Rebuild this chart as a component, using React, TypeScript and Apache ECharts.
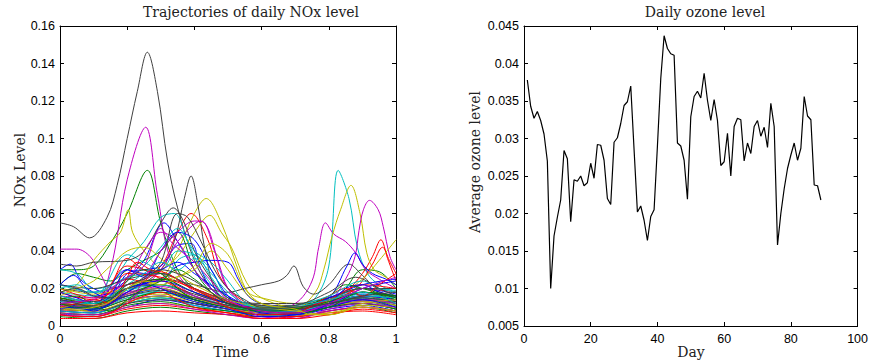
import React, { useEffect, useRef } from "react";
import * as echarts from "echarts";

// ---------- Left panel: NOx trajectories ([time, level] pairs) ----------
// Each group holds 7 curves, coloured in order: blue, green, red, cyan, magenta, yellow, black
const NOX_GROUP_1 = [
  [[0,0.022],[0.05,0.02],[0.1,0.016],[0.15,0.018],[0.2,0.025],[0.25,0.035],[0.31,0.055],[0.35,0.045],[0.4,0.03],[0.45,0.02],[0.5,0.014],[0.6,0.01],[0.7,0.009],[0.8,0.012],[0.9,0.015],[1,0.012]],
  [[0,0.03],[0.05,0.03],[0.1,0.032],[0.15,0.044],[0.2,0.06],[0.26,0.083],[0.3,0.055],[0.35,0.03],[0.4,0.02],[0.5,0.012],[0.6,0.009],[0.7,0.008],[0.8,0.011],[0.9,0.013],[1,0.01]],
  [[0,0.012],[0.1,0.01],[0.2,0.018],[0.3,0.032],[0.35,0.05],[0.39,0.06],[0.44,0.046],[0.48,0.025],[0.55,0.013],[0.65,0.009],[0.75,0.01],[0.85,0.014],[0.95,0.016],[1,0.013]],
  [[0,0.015],[0.1,0.013],[0.2,0.02],[0.3,0.018],[0.4,0.015],[0.5,0.011],[0.6,0.008],[0.7,0.009],[0.76,0.015],[0.8,0.032],[0.828,0.083],[0.86,0.068],[0.885,0.042],[0.915,0.028],[0.95,0.022],[1,0.018]],
  [[0,0.012],[0.1,0.011],[0.15,0.03],[0.2,0.078],[0.255,0.106],[0.29,0.07],[0.33,0.035],[0.4,0.018],[0.5,0.012],[0.6,0.009],[0.7,0.008],[0.8,0.012],[0.9,0.014],[1,0.012]],
  [[0,0.01],[0.1,0.012],[0.2,0.016],[0.3,0.025],[0.35,0.04],[0.4,0.06],[0.435,0.068],[0.48,0.055],[0.53,0.03],[0.56,0.018],[0.6,0.015],[0.7,0.012],[0.8,0.012],[0.9,0.016],[1,0.014]],
  [[0,0.055],[0.04,0.053],[0.088,0.047],[0.14,0.058],[0.17,0.075],[0.2,0.1],[0.23,0.125],[0.26,0.146],[0.29,0.125],[0.32,0.088],[0.35,0.063],[0.4,0.035],[0.45,0.02],[0.5,0.014],[0.6,0.011],[0.7,0.011],[0.8,0.014],[0.9,0.015],[1,0.012]],
];
const NOX_GROUP_2 = [
  [[0,0.03],[0.03,0.033],[0.06,0.025],[0.1,0.02],[0.15,0.017],[0.2,0.028],[0.25,0.03],[0.3,0.032],[0.35,0.043],[0.39,0.044],[0.42,0.03],[0.45,0.02],[0.5,0.013],[0.6,0.01],[0.7,0.009],[0.8,0.015],[0.9,0.017],[1,0.016]],
  [[0,0.022],[0.05,0.028],[0.1,0.026],[0.15,0.024],[0.2,0.03],[0.25,0.035],[0.3,0.04],[0.35,0.05],[0.4,0.03],[0.45,0.018],[0.5,0.012],[0.6,0.008],[0.7,0.008],[0.8,0.012],[0.85,0.02],[0.9,0.03],[0.95,0.029],[1,0.02]],
  [[0,0.015],[0.1,0.012],[0.2,0.025],[0.3,0.02],[0.4,0.014],[0.5,0.01],[0.6,0.007],[0.7,0.008],[0.8,0.014],[0.85,0.018],[0.9,0.028],[0.93,0.037],[0.955,0.046],[0.975,0.036],[1,0.024]],
  [[0,0.03],[0.05,0.028],[0.1,0.02],[0.15,0.022],[0.2,0.035],[0.25,0.045],[0.3,0.058],[0.34,0.06],[0.38,0.045],[0.42,0.03],[0.46,0.02],[0.5,0.013],[0.6,0.009],[0.7,0.008],[0.8,0.012],[0.9,0.014],[1,0.012]],
  [[0,0.01],[0.1,0.009],[0.2,0.014],[0.3,0.016],[0.4,0.012],[0.5,0.009],[0.6,0.007],[0.7,0.012],[0.75,0.024],[0.77,0.042],[0.79,0.055],[0.815,0.049],[0.85,0.045],[0.88,0.039],[0.91,0.03],[0.95,0.025],[1,0.02]],
  [[0,0.012],[0.1,0.01],[0.2,0.015],[0.3,0.017],[0.4,0.014],[0.5,0.01],[0.6,0.008],[0.7,0.009],[0.76,0.018],[0.785,0.03],[0.81,0.048],[0.835,0.062],[0.866,0.075],[0.893,0.06],[0.913,0.039],[0.935,0.03],[0.97,0.026],[1,0.022]],
  [[0,0.013],[0.1,0.012],[0.2,0.018],[0.3,0.03],[0.34,0.045],[0.37,0.068],[0.39,0.08],[0.41,0.065],[0.43,0.042],[0.46,0.02],[0.5,0.013],[0.6,0.01],[0.7,0.01],[0.8,0.015],[0.9,0.02],[1,0.015]],
];
const NOX_GROUP_3 = [
  [[0,0.012],[0.1,0.01],[0.2,0.02],[0.3,0.025],[0.35,0.032],[0.4,0.034],[0.45,0.035],[0.5,0.034],[0.53,0.025],[0.56,0.016],[0.6,0.012],[0.7,0.01],[0.8,0.014],[0.9,0.02],[1,0.017]],
  [[0,0.008],[0.1,0.007],[0.2,0.012],[0.3,0.015],[0.4,0.012],[0.5,0.009],[0.6,0.006],[0.7,0.006],[0.8,0.01],[0.9,0.012],[1,0.009]],
  [[0,0.008],[0.1,0.009],[0.2,0.032],[0.25,0.03],[0.3,0.025],[0.4,0.016],[0.5,0.01],[0.6,0.007],[0.7,0.009],[0.8,0.013],[0.88,0.02],[0.93,0.033],[0.96,0.042],[0.98,0.035],[1,0.028]],
  [[0,0.018],[0.1,0.016],[0.2,0.038],[0.25,0.034],[0.3,0.03],[0.35,0.04],[0.4,0.038],[0.45,0.03],[0.5,0.015],[0.6,0.009],[0.7,0.008],[0.8,0.012],[0.9,0.017],[1,0.014]],
  [[0,0.013],[0.1,0.012],[0.2,0.018],[0.3,0.02],[0.4,0.014],[0.5,0.01],[0.6,0.007],[0.7,0.008],[0.8,0.013],[0.85,0.025],[0.878,0.037],[0.89,0.051],[0.903,0.062],[0.921,0.067],[0.947,0.062],[0.962,0.053],[0.982,0.037],[1,0.03]],
  [[0,0.014],[0.1,0.012],[0.2,0.02],[0.3,0.03],[0.35,0.037],[0.4,0.05],[0.446,0.059],[0.48,0.05],[0.51,0.042],[0.556,0.023],[0.6,0.015],[0.7,0.01],[0.8,0.012],[0.9,0.014],[1,0.013]],
  [[0,0.02],[0.1,0.018],[0.2,0.022],[0.3,0.025],[0.4,0.022],[0.5,0.018],[0.55,0.02],[0.6,0.022],[0.65,0.024],[0.675,0.027],[0.696,0.032],[0.724,0.021],[0.755,0.017],[0.8,0.022],[0.86,0.033],[0.9,0.027],[0.95,0.02],[1,0.02]],
];
const NOX_GROUP_4 = [
  [[0,0.008],[0.1,0.007],[0.2,0.013],[0.3,0.016],[0.4,0.012],[0.5,0.009],[0.6,0.006],[0.7,0.007],[0.8,0.015],[0.854,0.032],[0.878,0.039],[0.9,0.033],[0.93,0.028],[0.97,0.025],[1,0.022]],
  [[0,0.012],[0.1,0.009],[0.2,0.017],[0.3,0.022],[0.4,0.015],[0.5,0.011],[0.6,0.008],[0.7,0.008],[0.8,0.012],[0.9,0.016],[1,0.012]],
  [[0,0.02],[0.1,0.015],[0.15,0.022],[0.2,0.036],[0.25,0.03],[0.3,0.028],[0.35,0.025],[0.4,0.02],[0.5,0.012],[0.6,0.008],[0.7,0.008],[0.8,0.012],[0.9,0.018],[1,0.015]],
  [[0,0.01],[0.1,0.009],[0.2,0.015],[0.3,0.02],[0.35,0.035],[0.4,0.038],[0.45,0.026],[0.5,0.015],[0.6,0.01],[0.7,0.009],[0.8,0.013],[0.9,0.018],[1,0.016]],
  [[0,0.041],[0.05,0.041],[0.09,0.037],[0.12,0.028],[0.15,0.02],[0.2,0.022],[0.25,0.025],[0.3,0.028],[0.35,0.022],[0.4,0.016],[0.5,0.01],[0.6,0.007],[0.7,0.007],[0.8,0.011],[0.9,0.014],[1,0.012]],
  [[0,0.018],[0.05,0.022],[0.1,0.035],[0.15,0.045],[0.18,0.05],[0.203,0.062],[0.216,0.05],[0.25,0.04],[0.3,0.03],[0.35,0.022],[0.4,0.018],[0.5,0.012],[0.6,0.008],[0.7,0.008],[0.8,0.012],[0.9,0.016],[1,0.013]],
  [[0,0.033],[0.05,0.032],[0.1,0.034],[0.2,0.035],[0.25,0.04],[0.3,0.055],[0.337,0.063],[0.37,0.055],[0.4,0.04],[0.45,0.025],[0.5,0.015],[0.6,0.011],[0.7,0.01],[0.8,0.014],[0.9,0.018],[1,0.015]],
];
const NOX_GROUP_5 = [
  [[0,0.006],[0.1,0.006],[0.2,0.01],[0.3,0.014],[0.4,0.011],[0.5,0.008],[0.6,0.006],[0.7,0.006],[0.8,0.009],[0.9,0.011],[1,0.008]],
  [[0,0.005],[0.1,0.004],[0.2,0.008],[0.3,0.01],[0.4,0.008],[0.5,0.006],[0.6,0.005],[0.7,0.005],[0.8,0.008],[0.9,0.01],[1,0.007]],
  [[0,0.004],[0.1,0.004],[0.2,0.007],[0.3,0.008],[0.4,0.007],[0.5,0.006],[0.6,0.004],[0.7,0.005],[0.8,0.007],[0.9,0.008],[1,0.006]],
  [[0,0.011],[0.1,0.01],[0.2,0.016],[0.3,0.018],[0.4,0.014],[0.5,0.01],[0.6,0.008],[0.7,0.008],[0.8,0.011],[0.9,0.015],[1,0.013]],
  [[0,0.009],[0.1,0.008],[0.2,0.013],[0.3,0.03],[0.35,0.045],[0.42,0.056],[0.46,0.04],[0.5,0.02],[0.6,0.006],[0.65,0.004],[0.7,0.005],[0.8,0.01],[0.9,0.013],[1,0.011]],
  [[0,0.007],[0.1,0.006],[0.2,0.01],[0.3,0.012],[0.4,0.01],[0.5,0.007],[0.6,0.006],[0.7,0.006],[0.8,0.007],[0.9,0.01],[1,0.008]],
  [[0,0.016],[0.1,0.013],[0.2,0.02],[0.3,0.022],[0.4,0.017],[0.5,0.012],[0.6,0.01],[0.7,0.01],[0.8,0.013],[0.9,0.018],[1,0.016]],
];
const NOX_GROUP_6 = [
  [[0,0.014],[0.1,0.012],[0.2,0.03],[0.25,0.028],[0.3,0.03],[0.35,0.034],[0.4,0.028],[0.5,0.016],[0.6,0.008],[0.7,0.007],[0.8,0.011],[0.9,0.02],[1,0.024]],
  [[0,0.01],[0.1,0.009],[0.2,0.014],[0.3,0.018],[0.4,0.014],[0.5,0.01],[0.6,0.007],[0.7,0.007],[0.8,0.012],[0.9,0.014],[1,0.011]],
  [[0,0.012],[0.1,0.011],[0.2,0.022],[0.3,0.024],[0.4,0.016],[0.5,0.011],[0.6,0.008],[0.7,0.008],[0.8,0.012],[0.9,0.02],[1,0.018]],
  [[0,0.008],[0.1,0.007],[0.2,0.012],[0.3,0.015],[0.4,0.011],[0.5,0.008],[0.6,0.006],[0.7,0.006],[0.8,0.01],[0.9,0.012],[1,0.01]],
  [[0,0.016],[0.1,0.015],[0.2,0.024],[0.25,0.04],[0.3,0.05],[0.35,0.045],[0.4,0.03],[0.45,0.02],[0.5,0.013],[0.6,0.009],[0.7,0.008],[0.8,0.012],[0.9,0.016],[1,0.014]],
  [[0,0.02],[0.1,0.017],[0.2,0.02],[0.3,0.024],[0.4,0.03],[0.45,0.04],[0.5,0.03],[0.55,0.018],[0.6,0.012],[0.7,0.01],[0.8,0.013],[0.9,0.025],[0.95,0.035],[1,0.046]],
  [[0,0.009],[0.1,0.008],[0.2,0.012],[0.3,0.014],[0.4,0.012],[0.5,0.009],[0.6,0.007],[0.7,0.007],[0.8,0.01],[0.9,0.012],[1,0.009]],
];
const NOX_GROUP_7 = [
  [[0,0.01],[0.1,0.009],[0.2,0.016],[0.3,0.02],[0.4,0.014],[0.5,0.01],[0.6,0.007],[0.7,0.007],[0.8,0.012],[0.9,0.016],[1,0.014]],
  [[0,0.015],[0.1,0.012],[0.2,0.02],[0.3,0.025],[0.4,0.018],[0.5,0.012],[0.6,0.009],[0.7,0.009],[0.8,0.013],[0.9,0.018],[1,0.014]],
  [[0,0.006],[0.1,0.005],[0.2,0.009],[0.3,0.011],[0.4,0.009],[0.5,0.007],[0.6,0.005],[0.7,0.005],[0.8,0.008],[0.9,0.01],[1,0.008]],
  [[0,0.022],[0.1,0.018],[0.2,0.026],[0.3,0.028],[0.4,0.02],[0.5,0.013],[0.6,0.01],[0.7,0.009],[0.8,0.014],[0.9,0.02],[1,0.019]],
  [[0,0.006],[0.1,0.005],[0.2,0.01],[0.3,0.012],[0.4,0.009],[0.5,0.006],[0.6,0.004],[0.7,0.004],[0.8,0.008],[0.9,0.01],[1,0.008]],
  [[0,0.012],[0.1,0.011],[0.2,0.017],[0.3,0.02],[0.4,0.015],[0.5,0.01],[0.6,0.008],[0.7,0.007],[0.8,0.01],[0.9,0.013],[1,0.011]],
  [[0,0.022],[0.1,0.02],[0.2,0.025],[0.3,0.028],[0.4,0.02],[0.5,0.014],[0.6,0.012],[0.7,0.012],[0.8,0.015],[0.9,0.02],[1,0.02]],
];
const NOX_GROUP_8 = [
  [[0,0.022],[0.04,0.027],[0.08,0.02],[0.15,0.015],[0.2,0.02],[0.3,0.024],[0.4,0.018],[0.5,0.012],[0.6,0.008],[0.7,0.008],[0.8,0.015],[0.9,0.022],[1,0.025]],
  [[0,0.007],[0.1,0.006],[0.2,0.011],[0.3,0.013],[0.4,0.01],[0.5,0.008],[0.6,0.006],[0.7,0.006],[0.8,0.01],[0.9,0.012],[1,0.009]],
  [[0,0.018],[0.1,0.014],[0.15,0.018],[0.2,0.028],[0.3,0.026],[0.4,0.02],[0.5,0.013],[0.6,0.009],[0.7,0.009],[0.8,0.014],[0.9,0.022],[1,0.02]],
  [[0,0.013],[0.1,0.012],[0.2,0.019],[0.3,0.022],[0.4,0.016],[0.5,0.011],[0.6,0.008],[0.7,0.008],[0.8,0.012],[0.9,0.016],[1,0.015]],
  [[0,0.011],[0.1,0.01],[0.2,0.017],[0.3,0.021],[0.4,0.016],[0.5,0.01],[0.6,0.007],[0.7,0.007],[0.8,0.011],[0.9,0.014],[1,0.013]],
  [[0,0.009],[0.1,0.008],[0.2,0.013],[0.3,0.016],[0.4,0.013],[0.5,0.009],[0.6,0.007],[0.7,0.006],[0.8,0.006],[0.9,0.011],[1,0.01]],
  [[0,0.012],[0.1,0.011],[0.2,0.016],[0.3,0.019],[0.4,0.015],[0.5,0.011],[0.6,0.009],[0.7,0.009],[0.8,0.012],[0.9,0.015],[1,0.013]],
];
const NOX_GROUP_9 = [
  [[0,0.018],[0.05,0.015],[0.1,0.012],[0.15,0.016],[0.2,0.03],[0.25,0.026],[0.3,0.04],[0.35,0.05],[0.4,0.046],[0.45,0.03],[0.5,0.016],[0.55,0.01],[0.6,0.007],[0.7,0.006],[0.8,0.012],[0.85,0.02],[0.9,0.022],[0.95,0.018],[1,0.016]],
  [[0,0.014],[0.05,0.016],[0.1,0.012],[0.15,0.014],[0.2,0.024],[0.25,0.03],[0.3,0.028],[0.35,0.02],[0.4,0.014],[0.5,0.01],[0.6,0.008],[0.7,0.009],[0.8,0.016],[0.85,0.022],[0.9,0.02],[1,0.015]],
  [[0,0.01],[0.05,0.012],[0.1,0.014],[0.15,0.012],[0.2,0.026],[0.23,0.034],[0.27,0.03],[0.32,0.028],[0.37,0.022],[0.45,0.015],[0.5,0.01],[0.6,0.006],[0.7,0.007],[0.8,0.016],[0.85,0.02],[0.9,0.016],[0.95,0.022],[1,0.028]],
  [[0,0.02],[0.05,0.022],[0.1,0.018],[0.15,0.02],[0.2,0.026],[0.25,0.032],[0.3,0.042],[0.35,0.052],[0.4,0.04],[0.45,0.034],[0.5,0.024],[0.55,0.013],[0.6,0.01],[0.7,0.011],[0.8,0.016],[0.9,0.024],[0.95,0.02],[1,0.018]],
  [[0,0.007],[0.1,0.006],[0.2,0.012],[0.25,0.025],[0.3,0.04],[0.35,0.05],[0.4,0.056],[0.43,0.055],[0.47,0.035],[0.5,0.02],[0.55,0.01],[0.6,0.005],[0.7,0.004],[0.8,0.009],[0.9,0.012],[1,0.01]],
  [[0,0.016],[0.05,0.02],[0.1,0.024],[0.15,0.032],[0.2,0.04],[0.25,0.042],[0.3,0.036],[0.35,0.028],[0.4,0.022],[0.5,0.014],[0.6,0.01],[0.7,0.008],[0.8,0.006],[0.9,0.012],[1,0.014]],
  [[0,0.014],[0.05,0.012],[0.1,0.01],[0.15,0.012],[0.2,0.02],[0.25,0.026],[0.3,0.034],[0.35,0.06],[0.38,0.058],[0.42,0.045],[0.46,0.03],[0.5,0.02],[0.55,0.014],[0.6,0.01],[0.7,0.011],[0.8,0.018],[0.88,0.026],[0.95,0.02],[1,0.016]],
];
const NOX_GROUP_10 = [
  [[0,0.009],[0.05,0.01],[0.1,0.008],[0.15,0.012],[0.2,0.018],[0.25,0.022],[0.3,0.02],[0.35,0.016],[0.4,0.013],[0.5,0.009],[0.6,0.005],[0.7,0.006],[0.8,0.01],[0.9,0.014],[1,0.01]],
  [[0,0.012],[0.05,0.01],[0.1,0.01],[0.15,0.008],[0.2,0.014],[0.25,0.02],[0.3,0.024],[0.35,0.03],[0.4,0.025],[0.45,0.018],[0.5,0.012],[0.6,0.008],[0.7,0.007],[0.8,0.01],[0.9,0.018],[1,0.016]],
  [[0,0.006],[0.05,0.005],[0.1,0.005],[0.15,0.007],[0.2,0.012],[0.25,0.016],[0.3,0.018],[0.35,0.014],[0.4,0.01],[0.5,0.007],[0.6,0.004],[0.7,0.004],[0.8,0.006],[0.9,0.009],[1,0.007]],
  [[0,0.016],[0.05,0.014],[0.1,0.012],[0.15,0.016],[0.2,0.022],[0.25,0.028],[0.3,0.034],[0.35,0.03],[0.4,0.036],[0.45,0.028],[0.5,0.018],[0.55,0.012],[0.6,0.009],[0.7,0.01],[0.8,0.014],[0.9,0.018],[1,0.012]],
  [[0,0.012],[0.05,0.013],[0.1,0.014],[0.15,0.02],[0.2,0.026],[0.25,0.032],[0.3,0.052],[0.33,0.045],[0.36,0.04],[0.4,0.034],[0.45,0.024],[0.5,0.014],[0.6,0.008],[0.7,0.007],[0.8,0.012],[0.9,0.02],[1,0.026]],
  [[0,0.01],[0.05,0.009],[0.1,0.01],[0.15,0.013],[0.2,0.02],[0.25,0.024],[0.3,0.022],[0.35,0.026],[0.4,0.032],[0.45,0.044],[0.5,0.038],[0.55,0.02],[0.6,0.012],[0.7,0.009],[0.75,0.006],[0.8,0.006],[0.9,0.01],[1,0.008]],
  [[0,0.018],[0.05,0.02],[0.1,0.016],[0.15,0.015],[0.2,0.022],[0.25,0.025],[0.3,0.03],[0.35,0.028],[0.4,0.024],[0.45,0.018],[0.5,0.012],[0.6,0.009],[0.7,0.01],[0.8,0.012],[0.9,0.016],[1,0.018]],
];

// ---------- Right panel: daily ozone level ----------
const OZONE_LEVEL = [
  0.0378, 0.0343, 0.0327, 0.0336, 0.0324, 0.0306, 0.0270, 0.0100, 0.0170, 0.0195,
  0.0218, 0.0284, 0.0273, 0.0189, 0.0245, 0.0243, 0.0250, 0.0237, 0.0241, 0.0267,
  0.0247, 0.0292, 0.0291, 0.0271, 0.0220, 0.0212, 0.0295, 0.0301, 0.0320, 0.0344,
  0.0349, 0.0370, 0.0285, 0.0202, 0.0210, 0.0191, 0.0164, 0.0196, 0.0205, 0.0290,
  0.0380, 0.0437, 0.0420, 0.0413, 0.0411, 0.0294, 0.0290, 0.0271, 0.0219, 0.0329,
  0.0356, 0.0363, 0.0354, 0.0387, 0.0351, 0.0324, 0.0352, 0.0324, 0.0264, 0.0269,
  0.0307, 0.0250, 0.0316, 0.0327, 0.0325, 0.0270, 0.0294, 0.0280, 0.0316, 0.0324,
  0.0303, 0.0315, 0.0288, 0.0347, 0.0316, 0.0158, 0.0200, 0.0233, 0.0260, 0.0278,
  0.0294, 0.0271, 0.0287, 0.0356, 0.0330, 0.0325, 0.0238, 0.0237, 0.0218,
];
const FIRST_DAY = 1;

const TITLES = ["Trajectories of daily NOx level", "Daily ozone level"];
const X_NAMES = ["Time", "Day"];
const Y_NAMES = ["NOx Level", "Average ozone level"];

const LINE_COLORS = ["#0000ff", "#008000", "#ff0000", "#00bfbf", "#bf00bf", "#bfbf00", "#404040"];

const SERIF = "'DejaVu Serif', 'Liberation Serif', serif";
const SANS = "'Liberation Sans', Arial, sans-serif";

function fmt(v: number): string {
  return String(parseFloat(v.toFixed(4)));
}

export default function App() {
  const ref = useRef<HTMLDivElement>(null);

  useEffect(() => {
    document.body.style.margin = "0";
    if (!ref.current) return;
    const chart = echarts.init(ref.current, null, { renderer: "svg" });

    const curves = [
      ...NOX_GROUP_1, ...NOX_GROUP_2, ...NOX_GROUP_3, ...NOX_GROUP_4, ...NOX_GROUP_5,
      ...NOX_GROUP_6, ...NOX_GROUP_7, ...NOX_GROUP_8, ...NOX_GROUP_9, ...NOX_GROUP_10,
    ];
    const noxSeries = curves.map((pts, i) => ({
      type: "line",
      xAxisIndex: 0,
      yAxisIndex: 0,
      data: pts,
      symbol: "none",
      smooth: 0.35,
      silent: true,
      lineStyle: { width: 1, color: LINE_COLORS[i % 7] },
    }));
    const ozoneData = OZONE_LEVEL.map((v, i) => [FIRST_DAY + i, v]);

    const axisLine = { show: true, onZero: false, lineStyle: { color: "#000", width: 1 } };
    const tick = { show: true, inside: true, length: 4, lineStyle: { color: "#000", width: 1 } };
    const label = { color: "#000", fontFamily: SANS, fontSize: 12.5, margin: 6, formatter: fmt };
    const noLabel = { show: false };

    const mkX = (grid: number, min: number, max: number, interval: number, top: boolean) => ({
      type: "value",
      gridIndex: grid,
      position: top ? "top" : "bottom",
      min, max, interval,
      axisLine, axisTick: tick,
      axisLabel: top ? noLabel : label,
      splitLine: { show: false },
    });
    const mkY = (grid: number, min: number, max: number, interval: number, right: boolean) => ({
      type: "value",
      gridIndex: grid,
      position: right ? "right" : "left",
      min, max, interval,
      axisLine, axisTick: tick,
      axisLabel: right ? noLabel : { ...label, margin: 5 },
      splitLine: { show: false },
    });

    const txt = (text: string, x: number, y: number, rot = 0) => ({
      type: "text",
      x, y,
      rotation: rot,
      silent: true,
      style: {
        text,
        fill: "#222",
        font: `14px ${SERIF}`,
        textAlign: "center",
        textVerticalAlign: "middle",
      },
    });

    chart.setOption({
      animation: false,
      grid: [
        { left: 60, top: 26, width: 336, height: 300 },
        { left: 524, top: 26, width: 336, height: 300 },
      ],
      xAxis: [
        mkX(0, 0, 1, 0.2, false),
        mkX(0, 0, 1, 0.2, true),
        mkX(1, 0, 100, 20, false),
        mkX(1, 0, 100, 20, true),
      ],
      yAxis: [
        mkY(0, 0, 0.16, 0.02, false),
        mkY(0, 0, 0.16, 0.02, true),
        mkY(1, 0.005, 0.045, 0.005, false),
        mkY(1, 0.005, 0.045, 0.005, true),
      ],
      series: [
        ...noxSeries,
        {
          type: "line",
          xAxisIndex: 2,
          yAxisIndex: 2,
          data: ozoneData,
          symbol: "none",
          silent: true,
          lineStyle: { width: 1.2, color: "#000" },
        },
      ],
      graphic: [
        txt(TITLES[0], 251, 12),
        txt(TITLES[1], 705, 12),
        txt(X_NAMES[0], 231, 352),
        txt(X_NAMES[1], 691, 352),
        txt(Y_NAMES[0], 20, 170, Math.PI / 2),
        txt(Y_NAMES[1], 475, 162, Math.PI / 2),
      ],
    });

    return () => chart.dispose();
  }, []);

  return <div ref={ref} style={{ width: 871, height: 364 }} />;
}
